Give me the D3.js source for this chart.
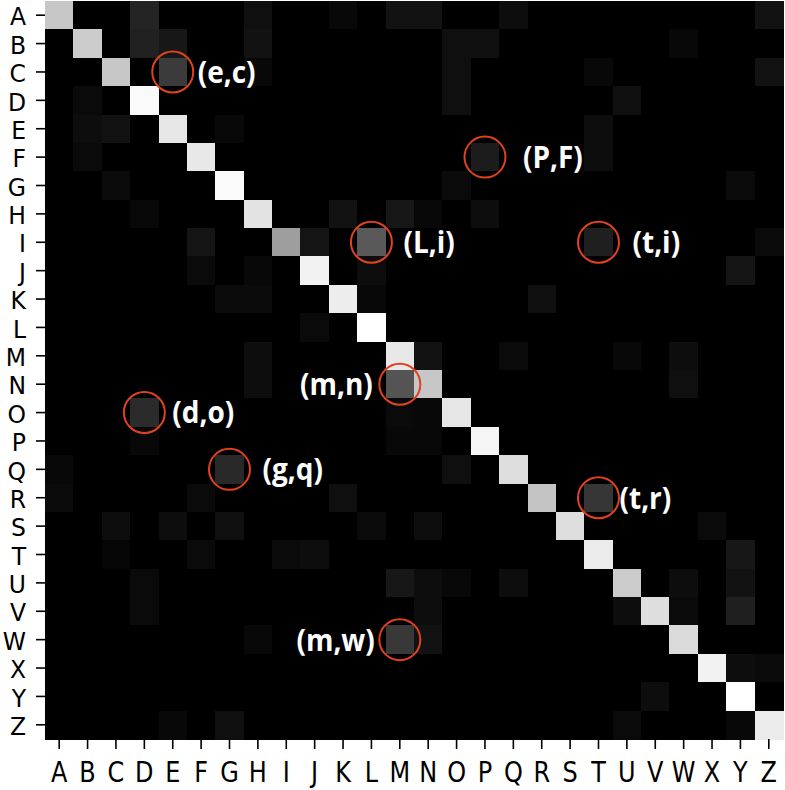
<!DOCTYPE html>
<html>
<head>
<meta charset="utf-8">
<script src="https://cdn.jsdelivr.net/npm/d3@7"></script>
<style>
  body { margin: 0; background: #fff; }
  svg { display: block; }
</style>
</head>
<body>
<div id="chart"></div>
<script>
// letters on both axes (rows = true class, cols = predicted)
const letters = "ABCDEFGHIJKLMNOPQRSTUVWXYZ".split("")

// diagonal intensity, A..Z (0 = black, 1 = white)
const diagonal = [0.78, 0.80, 0.78, 0.98, 0.90, 0.91, 0.98, 0.89, 0.62, 0.95, 0.93, 1.00, 0.91,
                  0.78, 0.90, 0.96, 0.87, 0.77, 0.87, 0.92, 0.80, 0.87, 0.86, 0.95, 1.00, 0.92]

// off-diagonal confusions: [row, col, intensity]
const confusions = [
  ["A","D",0.14], ["A","H",0.06], ["A","K",0.03], ["A","M",0.07], ["A","N",0.07], ["A","Q",0.05], ["A","Z",0.07],
  ["B","D",0.13], ["B","E",0.09], ["B","H",0.07], ["B","O",0.06], ["B","P",0.06], ["B","W",0.03],
  ["C","E",0.23], ["C","H",0.03], ["C","O",0.06], ["C","T",0.03], ["C","Z",0.07],
  ["D","B",0.04], ["D","O",0.06], ["D","U",0.06],
  ["E","B",0.05], ["E","C",0.07], ["E","G",0.03], ["E","T",0.05],
  ["F","B",0.04], ["F","P",0.11], ["F","T",0.05],
  ["G","C",0.04], ["G","O",0.04], ["G","Y",0.04],
  ["H","D",0.03], ["H","K",0.07], ["H","M",0.09], ["H","N",0.03], ["H","P",0.05],
  ["I","F",0.08], ["I","J",0.08], ["I","L",0.35], ["I","T",0.12], ["I","Z",0.04],
  ["J","F",0.04], ["J","H",0.03], ["J","L",0.05], ["J","Y",0.08],
  ["K","G",0.04], ["K","H",0.04], ["K","L",0.03], ["K","R",0.06],
  ["L","J",0.04],
  ["M","H",0.05], ["M","N",0.07], ["M","Q",0.04], ["M","U",0.03], ["M","W",0.05],
  ["N","H",0.05], ["N","M",0.33], ["N","W",0.06],
  ["O","D",0.17], ["O","M",0.04], ["O","N",0.03],
  ["P","D",0.03], ["P","M",0.03], ["P","N",0.03],
  ["Q","A",0.03], ["Q","G",0.16], ["Q","O",0.06],
  ["R","A",0.04], ["R","F",0.04], ["R","K",0.06], ["R","T",0.21],
  ["S","C",0.05], ["S","E",0.05], ["S","G",0.06], ["S","L",0.04], ["S","N",0.05], ["S","X",0.04],
  ["T","C",0.02], ["T","F",0.04], ["T","I",0.04], ["T","J",0.05], ["T","Y",0.09],
  ["U","D",0.04], ["U","M",0.09], ["U","N",0.05], ["U","O",0.03], ["U","Q",0.05], ["U","W",0.05], ["U","Y",0.07],
  ["V","D",0.04], ["V","N",0.05], ["V","U",0.05], ["V","W",0.04], ["V","Y",0.12],
  ["W","H",0.03], ["W","M",0.22], ["W","N",0.07],
  ["X","Y",0.05], ["X","Z",0.04],
  ["Y","V",0.05],
  ["Z","E",0.03], ["Z","G",0.06], ["Z","U",0.04], ["Z","Y",0.03]
]

// highlighted cells: [label, row, col]
const highlights = [
  ["(e,c)", "C", "E"], ["(P,F)", "F", "P"], ["(L,i)", "I", "L"], ["(t,i)", "I", "T"],
  ["(m,n)", "N", "M"], ["(d,o)", "O", "D"], ["(g,q)", "Q", "G"], ["(t,r)", "R", "T"],
  ["(m,w)", "W", "M"]
]

const width = 785, height = 790
const margin = { top: 1, right: 2, bottom: 51, left: 45 }

// label placement next to each circle (px from cell centre; negative = left side)
const labelShift = { "(e,c)": 25, "(P,F)": 38, "(L,i)": 32, "(t,i)": 34, "(m,n)": -27,
                     "(d,o)": 28, "(g,q)": 33, "(t,r)": 21, "(m,w)": -25 }

// build full grid
let cells = []
letters.forEach((r, i) => {
  letters.forEach((c, j) => {
    cells.push({ row: r, col: c, v: i === j ? diagonal[i] : 0 })
  })
})
confusions.forEach(([r, c, v]) => {
  cells.find(d => d.row === r && d.col === c).v = v
})

const x = d3.scaleBand().domain(letters).range([margin.left, width - margin.right])
const y = d3.scaleBand().domain(letters).range([margin.top, height - margin.bottom])
const color = d3.scaleLinear().domain([0, 1]).range(["#000000", "#ffffff"])

const svg = d3.select("#chart")
  .append("svg")
  .attr("width", width)
  .attr("height", height)

svg.append("g")
  .selectAll("rect")
  .data(cells)
  .join("rect")
  .attr("x", d => x(d.col))
  .attr("y", d => y(d.row))
  .attr("width", x.bandwidth() + 0.5)
  .attr("height", y.bandwidth() + 0.5)
  .attr("fill", d => color(d.v))
  .attr("shape-rendering", "crispEdges")

const xAxis = svg.append("g")
  .attr("transform", `translate(0,${height - margin.bottom})`)
  .call(d3.axisBottom(x).tickSize(10))
const yAxis = svg.append("g")
  .attr("transform", `translate(${margin.left},0)`)
  .call(d3.axisLeft(y).tickSize(9))

for (const ax of [xAxis, yAxis]) {
  ax.select(".domain").remove()
  ax.selectAll(".tick line").attr("stroke", "#000").attr("stroke-width", 1.6)
  ax.selectAll(".tick text")
    .attr("fill", "#000")
    .attr("x", 0).attr("y", 0)
    .style("font-family", "'DejaVu Sans', sans-serif")
    .style("font-size", "24px")
}
// the labels in the original are a little taller than wide
yAxis.selectAll(".tick text")
  .style("font-size", "23.5px")
  .attr("dy", "0.36em")
  .attr("transform", "translate(-19,1.5) scale(1,1.03)")
xAxis.selectAll(".tick text")
  .attr("dy", 0)
  .attr("transform", "translate(0,43) scale(1,1.2)")

const hl = svg.append("g")
hl.selectAll("circle")
  .data(highlights)
  .join("circle")
  .attr("cx", d => x(d[2]) + x.bandwidth() / 2)
  .attr("cy", d => y(d[1]) + y.bandwidth() / 2)
  .attr("r", 20.5)
  .attr("fill", "none")
  .attr("stroke", "#e0421f")
  .attr("stroke-width", 2)

hl.selectAll("text")
  .data(highlights)
  .join("text")
  .attr("transform", d => `translate(${x(d[2]) + x.bandwidth() / 2 + labelShift[d[0]]},${y(d[1]) + y.bandwidth() / 2}) scale(1,1.08)`)
  .attr("dy", "0.36em")
  .attr("text-anchor", d => labelShift[d[0]] < 0 ? "end" : "start")
  .attr("fill", "#fff")
  .style("font-family", "'Open Sans', sans-serif")
  .style("font-weight", "700")
  .style("font-size", "28px")
  .text(d => d[0])
</script>
</body>
</html>
